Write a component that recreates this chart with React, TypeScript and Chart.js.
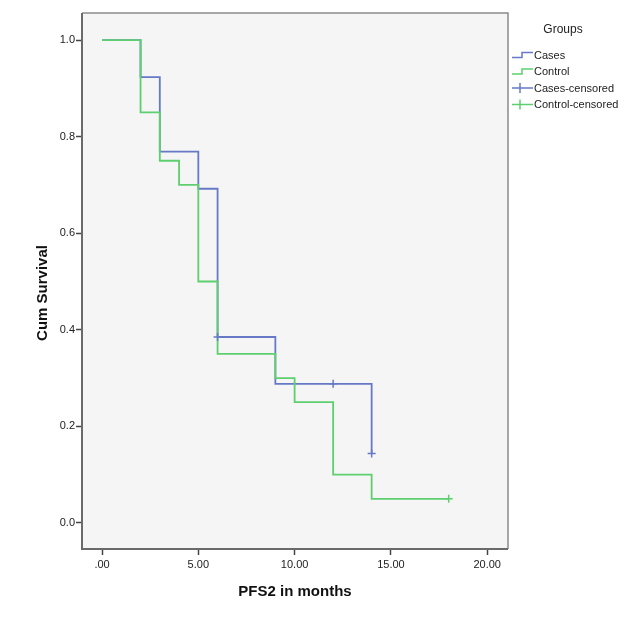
import React, { useEffect, useRef } from "react";
import { Chart, registerables } from "chart.js";

Chart.register(...registerables);

const caseTimes = [0, 2, 3, 5, 6, 9, 14];
const caseSurvival = [1.0, 0.923, 0.769, 0.692, 0.385, 0.288, 0.144];
const controlTimes = [0, 2, 3, 4, 5, 6, 9, 10, 12, 14, 18];
const controlSurvival = [1.0, 0.85, 0.75, 0.7, 0.5, 0.35, 0.3, 0.25, 0.1, 0.05, 0.05];
const caseCensoredTimes = [6, 12, 14];
const caseCensoredSurvival = [0.385, 0.288, 0.144];
const controlCensoredTimes = [18];
const controlCensoredSurvival = [0.05];
const xTickValues = [0, 5, 10, 15, 20];
const yTickValues = [0, 0.2, 0.4, 0.6, 0.8, 1.0];
const legendTitle = "Groups";
const legendLabels = ["Cases", "Control", "Cases-censored", "Control-censored"];
const xTitle = "PFS2 in months";
const yTitle = "Cum Survival";

const BLUE = "#6679c6";
const GREEN = "#5ecf6f";
const FONT = "'Liberation Sans', Arial, sans-serif";

const toPoints = (xs: number[], ys: number[]) => xs.map((x, i) => ({ x, y: ys[i] }));

const framePlugin = {
  id: "spssFrame",
  beforeDraw(chart: any) {
    const { ctx, chartArea } = chart;
    ctx.save();
    ctx.fillStyle = "#ffffff";
    ctx.fillRect(0, 0, chart.width, chart.height);
    ctx.fillStyle = "#f5f5f5";
    ctx.fillRect(chartArea.left, chartArea.top, chartArea.right - chartArea.left, chartArea.bottom - chartArea.top);
    ctx.restore();
  },
  afterDraw(chart: any) {
    const { ctx, chartArea } = chart;
    const { left, right, top, bottom } = chartArea;
    ctx.save();
    ctx.strokeStyle = "#8a8a8a";
    ctx.lineWidth = 1.5;
    ctx.beginPath();
    ctx.moveTo(left, top);
    ctx.lineTo(right, top);
    ctx.lineTo(right, bottom);
    ctx.stroke();
    ctx.strokeStyle = "#6a6a6a";
    ctx.lineWidth = 2;
    ctx.beginPath();
    ctx.moveTo(left, top);
    ctx.lineTo(left, bottom);
    ctx.lineTo(right, bottom);
    ctx.stroke();

    ctx.fillStyle = "#111";
    ctx.font = `bold 15px ${FONT}`;
    ctx.textAlign = "center";
    ctx.textBaseline = "middle";
    ctx.fillText(xTitle, (left + right) / 2, 592);
    ctx.save();
    ctx.translate(43, 293);
    ctx.rotate(-Math.PI / 2);
    ctx.fillText(yTitle, 0, 0);
    ctx.restore();

    ctx.font = `12px ${FONT}`;
    ctx.fillStyle = "#222";
    ctx.fillText(legendTitle, 563, 30);
    ctx.font = `11px ${FONT}`;
    ctx.textAlign = "left";
    const colors = [BLUE, GREEN, BLUE, GREEN];
    legendLabels.forEach((label, i) => {
      const y = 55 + i * 16.5;
      ctx.strokeStyle = colors[i];
      ctx.lineWidth = 1.5;
      ctx.beginPath();
      if (i < 2) {
        ctx.moveTo(512, y + 2.5);
        ctx.lineTo(522, y + 2.5);
        ctx.lineTo(522, y - 2.5);
        ctx.lineTo(533, y - 2.5);
      } else {
        ctx.moveTo(512, y);
        ctx.lineTo(533, y);
        ctx.moveTo(520, y - 5);
        ctx.lineTo(520, y + 5);
      }
      ctx.stroke();
      ctx.fillStyle = "#222";
      ctx.fillText(label, 534, y + 0.5);
    });
    ctx.restore();
  },
};

export default function App() {
  const canvasRef = useRef<HTMLCanvasElement | null>(null);

  useEffect(() => {
    if (!canvasRef.current) return;
    const chart = new Chart(canvasRef.current, {
      type: "scatter",
      data: {
        datasets: [
          {
            label: "Control-censored",
            data: toPoints(controlCensoredTimes, controlCensoredSurvival),
            showLine: false,
            pointStyle: "cross",
            pointRadius: 4,
            borderColor: GREEN,
            backgroundColor: GREEN,
            borderWidth: 1.5,
          },
          {
            label: "Cases-censored",
            data: toPoints(caseCensoredTimes, caseCensoredSurvival),
            showLine: false,
            pointStyle: "cross",
            pointRadius: 4,
            borderColor: BLUE,
            backgroundColor: BLUE,
            borderWidth: 1.5,
          },
          {
            label: "Control",
            data: toPoints(controlTimes, controlSurvival),
            showLine: true,
            stepped: "before",
            pointRadius: 0,
            borderColor: GREEN,
            borderWidth: 1.8,
            fill: false,
          },
          {
            label: "Cases",
            data: toPoints(caseTimes, caseSurvival),
            showLine: true,
            stepped: "before",
            pointRadius: 0,
            borderColor: BLUE,
            borderWidth: 1.8,
            fill: false,
          },
        ],
      },
      options: {
        animation: false,
        responsive: true,
        maintainAspectRatio: false,
        layout: { padding: { left: 0, top: 13, right: 117, bottom: 0 } },
        plugins: {
          legend: { display: false },
          tooltip: { enabled: false },
          title: { display: false },
        },
        scales: {
          x: {
            type: "linear",
            min: -1.04,
            max: 21.08,
            afterBuildTicks: (scale: any) => {
              scale.ticks = xTickValues.map((v) => ({ value: v }));
            },
            afterFit: (scale: any) => {
              scale.height = 73;
            },
            grid: { drawOnChartArea: false, drawTicks: true, tickLength: 6, tickColor: "#444", tickWidth: 1.5 },
            border: { display: false },
            ticks: {
              padding: 3,
              color: "#222",
              font: { family: FONT, size: 11 },
              maxRotation: 0,
              callback: (v: any) => (Number(v) === 0 ? ".00" : Number(v).toFixed(2)),
            },
          },
          y: {
            type: "linear",
            min: -0.054,
            max: 1.056,
            afterBuildTicks: (scale: any) => {
              scale.ticks = yTickValues.map((v) => ({ value: v }));
            },
            afterFit: (scale: any) => {
              scale.width = 82;
            },
            grid: { drawOnChartArea: false, drawTicks: true, tickLength: 6, tickColor: "#444", tickWidth: 1.5 },
            border: { display: false },
            ticks: {
              padding: 1,
              color: "#222",
              font: { family: FONT, size: 11 },
              callback: (v: any) => Number(v).toFixed(1),
            },
          },
        },
      },
      plugins: [framePlugin],
    });
    return () => chart.destroy();
  }, []);

  return (
    <div style={{ position: "absolute", left: 0, top: 0, width: 625, height: 622 }}>
      <canvas ref={canvasRef} />
    </div>
  );
}
